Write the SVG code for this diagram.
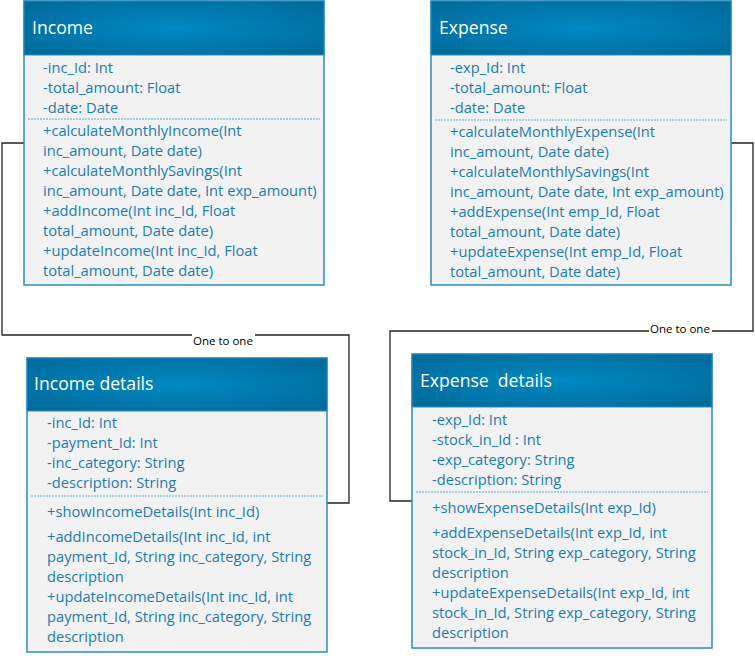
<svg xmlns="http://www.w3.org/2000/svg" width="755" height="656" viewBox="0 0 755 656">
<defs>
<radialGradient id="hdr" cx="0.5" cy="0.5" r="0.6">
<stop offset="0" stop-color="#0089c2"/>
<stop offset="1" stop-color="#006d9e"/>
</radialGradient>
<style>
.body{fill:#f2f2f2;stroke:#2a8dc2;stroke-width:1.5}
.hdr{fill:url(#hdr);stroke:#2a8dc2;stroke-width:1}
.title{font-family:"Open Sans","Liberation Sans",sans-serif;font-size:17.6px;fill:#ffffff}
.t{font-family:"Open Sans","Liberation Sans",sans-serif;font-size:14.7px;fill:#1a7db5}
.sep{stroke:#5aaad6;stroke-width:1;stroke-dasharray:2 1}
.conn{fill:none;stroke:#222;stroke-width:1.3}
.lbl{font-family:"Open Sans","Liberation Sans",sans-serif;font-size:11.5px;fill:#000}
</style>
</defs>
<rect width="755" height="656" fill="#fff"/>
<g id="connectors">
<polyline class="conn" points="24,143 2,143 2,335 349,335 349,503 327,503"/>
<rect x="192" y="330" width="63" height="12" fill="#fff"/>
<text class="lbl" x="193" y="345">One to one</text>
<polyline class="conn" points="731,143 753,143 753,331 390,331 390,501 412,501"/>
<rect x="649" y="326" width="63" height="10" fill="#fff"/>
<text class="lbl" x="650" y="333">One to one</text>
</g>
<g id="income">
<rect class="body" x="24" y="1" width="300" height="284"/>
<rect class="hdr" x="24" y="1" width="300" height="54"/>
<text class="title" x="32" y="34">Income</text>
<text class="t" x="43" y="73">-inc_Id: Int</text>
<text class="t" x="43" y="93">-total_amount: Float</text>
<text class="t" x="43" y="113">-date: Date</text>
<line class="sep" x1="28" y1="119" x2="320" y2="119"/>
<text class="t" x="43" y="136">+calculateMonthlyIncome(Int</text>
<text class="t" x="43" y="156">inc_amount, Date date)</text>
<text class="t" x="43" y="176">+calculateMonthlySavings(Int</text>
<text class="t" x="43" y="196">inc_amount, Date date, Int exp_amount)</text>
<text class="t" x="43" y="216">+addIncome(Int inc_Id, Float</text>
<text class="t" x="43" y="236">total_amount, Date date)</text>
<text class="t" x="43" y="256">+updateIncome(Int inc_Id, Float</text>
<text class="t" x="43" y="276">total_amount, Date date)</text>
</g>
<g id="expense">
<rect class="body" x="431" y="1" width="300" height="284"/>
<rect class="hdr" x="431" y="1" width="300" height="54"/>
<text class="title" x="439" y="34">Expense</text>
<text class="t" x="450" y="73">-exp_Id: Int</text>
<text class="t" x="450" y="93">-total_amount: Float</text>
<text class="t" x="450" y="113">-date: Date</text>
<line class="sep" x1="435" y1="120" x2="727" y2="120"/>
<text class="t" x="450" y="137">+calculateMonthlyExpense(Int</text>
<text class="t" x="450" y="157">inc_amount, Date date)</text>
<text class="t" x="450" y="177">+calculateMonthlySavings(Int</text>
<text class="t" x="450" y="197">inc_amount, Date date, Int exp_amount)</text>
<text class="t" x="450" y="217">+addExpense(Int emp_Id, Float</text>
<text class="t" x="450" y="237">total_amount, Date date)</text>
<text class="t" x="450" y="257">+updateExpense(Int emp_Id, Float</text>
<text class="t" x="450" y="277">total_amount, Date date)</text>
</g>
<g id="income-details">
<rect class="body" x="27" y="358" width="300" height="294"/>
<rect class="hdr" x="27" y="358" width="300" height="53"/>
<text class="title" x="34" y="390">Income details</text>
<text class="t" x="47" y="428">-inc_Id: Int</text>
<text class="t" x="47" y="448">-payment_Id: Int</text>
<text class="t" x="47" y="468">-inc_category: String</text>
<text class="t" x="47" y="488">-description: String</text>
<line class="sep" x1="31" y1="496" x2="323" y2="496"/>
<text class="t" x="47" y="517">+showIncomeDetails(Int inc_Id)</text>
<text class="t" x="47" y="542">+addIncomeDetails(Int inc_Id, int</text>
<text class="t" x="47" y="562">payment_Id, String inc_category, String</text>
<text class="t" x="47" y="582">description</text>
<text class="t" x="47" y="602">+updateIncomeDetails(Int inc_Id, int</text>
<text class="t" x="47" y="622">payment_Id, String inc_category, String</text>
<text class="t" x="47" y="642">description</text>
</g>
<g id="expense-details">
<rect class="body" x="412" y="354" width="300" height="294"/>
<rect class="hdr" x="412" y="354" width="300" height="53"/>
<text class="title" x="420" y="387" xml:space="preserve">Expense  details</text>
<text class="t" x="432" y="425">-exp_Id: Int</text>
<text class="t" x="432" y="445">-stock_in_Id : Int</text>
<text class="t" x="432" y="465">-exp_category: String</text>
<text class="t" x="432" y="485">-description: String</text>
<line class="sep" x1="416" y1="492" x2="708" y2="492"/>
<text class="t" x="432" y="513">+showExpenseDetails(Int exp_Id)</text>
<text class="t" x="432" y="538">+addExpenseDetails(Int exp_Id, int</text>
<text class="t" x="432" y="558">stock_in_Id, String exp_category, String</text>
<text class="t" x="432" y="578">description</text>
<text class="t" x="432" y="598">+updateExpenseDetails(Int exp_Id, int</text>
<text class="t" x="432" y="618">stock_in_Id, String exp_category, String</text>
<text class="t" x="432" y="638">description</text>
</g>
</svg>
